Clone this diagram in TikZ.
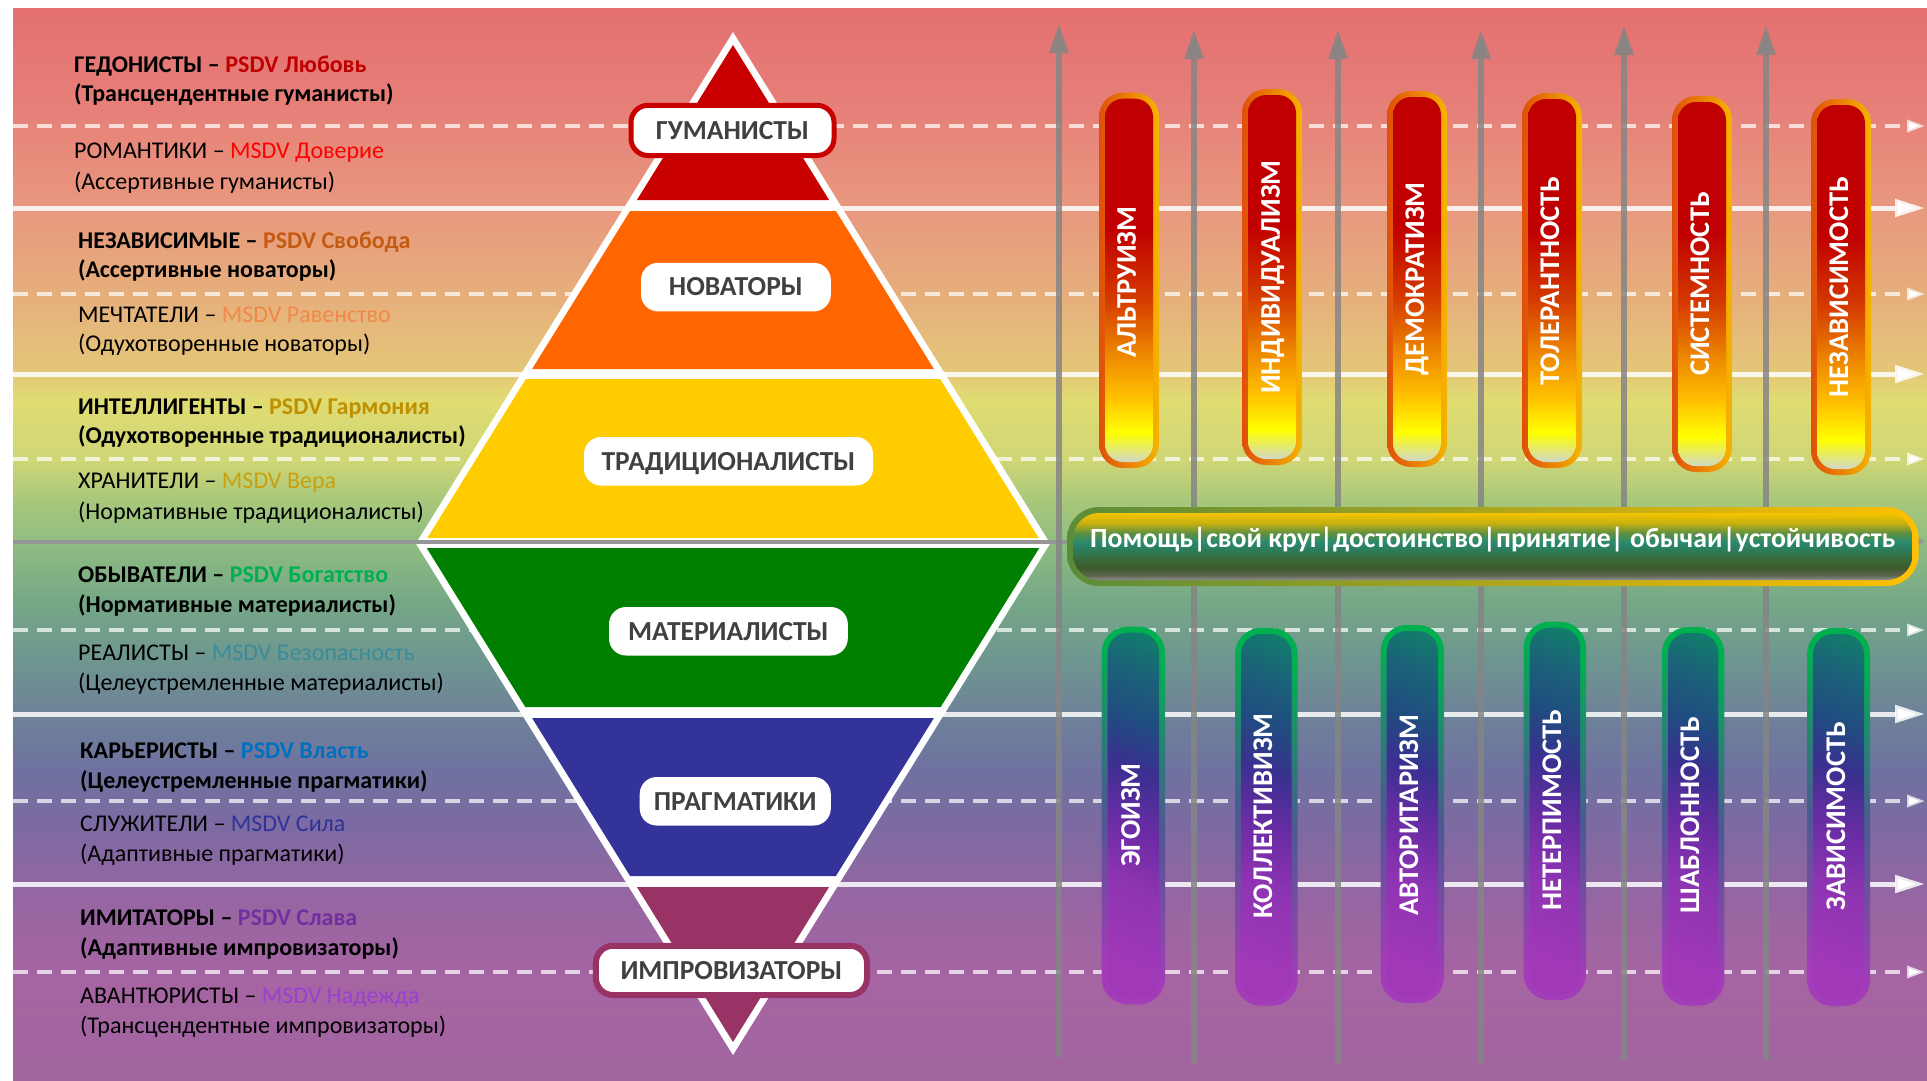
\documentclass[tikz,border=0pt]{standalone}
\usepackage{fontspec}
\setmainfont{Carlito}
\usetikzlibrary{arrows.meta}
% background colours
\definecolor{b01}{HTML}{E47070}\definecolor{b02}{HTML}{E67E78}\definecolor{b03}{HTML}{E8967E}
\definecolor{b04}{HTML}{E6B07C}\definecolor{b05}{HTML}{E4C678}\definecolor{b06}{HTML}{E0DC72}
\definecolor{b07}{HTML}{CFD676}\definecolor{b08}{HTML}{A8C87A}\definecolor{b09}{HTML}{8EBC82}
\definecolor{b10}{HTML}{76A886}\definecolor{b11}{HTML}{6E9690}\definecolor{b12}{HTML}{6E8298}
\definecolor{b13}{HTML}{6F72A0}\definecolor{b14}{HTML}{7E6AA2}\definecolor{b15}{HTML}{9666A2}
\definecolor{b16}{HTML}{A664A2}\definecolor{b17}{HTML}{A066A0}
\pgfdeclareverticalshading{bgshade}{100bp}{color(0bp)=(b17); color(25bp)=(b17); color(29.66bp)=(b16);
 color(33.4bp)=(b15); color(36.66bp)=(b14); color(39.46bp)=(b13); color(42.07bp)=(b12);
 color(44.59bp)=(b11); color(47.39bp)=(b10); color(49.95bp)=(b09); color(52.05bp)=(b08);
 color(53.92bp)=(b07); color(56.72bp)=(b06); color(58.12bp)=(b05); color(61.38bp)=(b04);
 color(66.04bp)=(b03); color(70.71bp)=(b02); color(75bp)=(b01); color(100bp)=(b01)}
% pyramid colours
\definecolor{pRed}{HTML}{C80000}\definecolor{pOrange}{HTML}{FF6600}\definecolor{pYellow}{HTML}{FFCC00}
\definecolor{pGreen}{HTML}{008000}\definecolor{pBlue}{HTML}{333399}\definecolor{pMaroon}{HTML}{993366}
\definecolor{lbltxt}{HTML}{404040}
% text colours
\definecolor{cLove}{HTML}{C00000}\definecolor{cTrust}{HTML}{FF0000}\definecolor{cFree}{HTML}{C55A11}
\definecolor{cEq}{HTML}{F0884A}\definecolor{cHarm}{HTML}{BF9000}\definecolor{cFaith}{HTML}{C8A010}
\definecolor{cWealth}{HTML}{00B050}\definecolor{cSafe}{HTML}{3A8C9A}\definecolor{cPower}{HTML}{0070C0}
\definecolor{cForce}{HTML}{2F3296}\definecolor{cGlory}{HTML}{7030A0}\definecolor{cHope}{HTML}{9B3FD0}
% top pills
\definecolor{tpG}{HTML}{D0D8C8}\definecolor{tpY}{HTML}{FFFF00}\definecolor{tpGo}{HTML}{FFC000}
\definecolor{tpO}{HTML}{F09000}\definecolor{tpRO}{HTML}{D43A00}\definecolor{tpR}{HTML}{C00000}
\definecolor{tpL}{HTML}{E0500A}\definecolor{tpRr}{HTML}{F5B400}
\pgfdeclareverticalshading{tpin}{100bp}{color(0bp)=(tpG); color(25bp)=(tpG); color(29bp)=(tpY);
 color(34bp)=(tpGo); color(39bp)=(tpO); color(47.5bp)=(tpRO); color(57bp)=(tpR); color(100bp)=(tpR)}
% bottom pills
\definecolor{bq1}{HTML}{00A050}\definecolor{bq2}{HTML}{0A9060}\definecolor{bq3}{HTML}{1A6478}
\definecolor{bq4}{HTML}{204C80}\definecolor{bq5}{HTML}{3A3090}\definecolor{bq6}{HTML}{6A2CA4}
\definecolor{bq7}{HTML}{8E34B2}\definecolor{bq8}{HTML}{A038B8}
\definecolor{boG}{HTML}{00B050}\definecolor{boMid}{HTML}{4A5A90}\definecolor{boM}{HTML}{A23CB8}
\pgfdeclareverticalshading{bpin}{100bp}{color(0bp)=(bq8); color(25bp)=(bq8); color(38bp)=(bq7);
 color(48bp)=(bq6); color(58bp)=(bq5); color(66bp)=(bq4); color(75bp)=(bq3); color(86bp)=(bq2);
 color(100bp)=(bq1)}
\pgfdeclareverticalshading{bpout}{100bp}{color(0bp)=(boM); color(25bp)=(boM); color(50bp)=(boMid);
 color(75bp)=(boG); color(100bp)=(boG)}
% bar
\definecolor{ba1}{HTML}{F5C400}\definecolor{ba2}{HTML}{C8B010}\definecolor{ba3}{HTML}{5E9040}
\definecolor{ba4}{HTML}{2A8A6E}\definecolor{ba5}{HTML}{2C7C5C}\definecolor{ba6}{HTML}{3A6838}
\definecolor{ba7}{HTML}{3E5A2A}\definecolor{ba8}{HTML}{5E6450}\definecolor{ba9}{HTML}{8E9090}
\definecolor{baL}{HTML}{5A8C3A}\definecolor{baR}{HTML}{FFC000}
\pgfdeclareverticalshading{barin}{100bp}{color(0bp)=(ba9); color(25bp)=(ba9); color(28.5bp)=(ba8);
 color(34bp)=(ba7); color(40bp)=(ba6); color(47.5bp)=(ba5); color(53.5bp)=(ba4); color(60bp)=(ba3);
 color(67.5bp)=(ba2); color(75bp)=(ba1); color(100bp)=(ba1)}
\definecolor{grayline}{HTML}{969696}
\definecolor{varcol}{HTML}{858585}

\newcommand\tpill[4]{%
 \shade[left color=tpL, right color=tpRr, rounded corners=24pt] (#1,#2) rectangle (#3,#4);
 \shade[shading=tpin, rounded corners=18pt] ({#1+6},{#2+6}) rectangle ({#3-6},{#4-6});}
\newcommand\bpill[4]{%
 \shade[shading=bpout, shading angle=-18, rounded corners=26pt] (#1,#2) rectangle (#3,#4);
 \shade[shading=bpin, shading angle=-22, rounded corners=20pt] ({#1+6},{#2+6}) rectangle ({#3-6},{#4-6});}
\newcommand\ltx[4]{\node[ltxt] (#1) at (#2,#3) {#4};}

\begin{document}
\begin{tikzpicture}[x=1pt,y=-1pt,
  ltxt/.style={anchor=base west, inner sep=0pt, font=\fontsize{24}{28}\selectfont},
  lbl/.style={fill=white, rounded corners=17pt, inner sep=0pt, text height=17.6pt, text depth=0pt,
    font=\fontsize{27.5}{30}\selectfont\bfseries, text=lbltxt},
  pilltxt/.style={rotate=90, text=white, inner sep=0pt, text height=18.4pt, text depth=0pt,
    font=\fontsize{28.5}{30}\selectfont\bfseries},
  solidln/.style={draw=white, draw opacity=0.85, line width=5pt, -{Triangle[length=30pt,width=17pt]}},
  dashln/.style={draw=white, draw opacity=0.72, line width=3.5pt, dash pattern=on 15pt off 9pt,
    -{Triangle[length=18pt,width=12pt]}},
  grayln/.style={draw=grayline, line width=4pt, -{Triangle[length=8pt,width=9pt]}},
  varrow/.style={draw=varcol, draw opacity=0.85, fill opacity=0.85, line width=6pt,
    -{Triangle[length=30pt,width=18pt]}},
  bartxt/.style={anchor=base west, inner sep=0pt, text=white, font=\fontsize{27.8}{30}\selectfont\bfseries}
]
\useasboundingbox (0,0) rectangle (1927,1080);
\fill[white] (0,0) rectangle (1927,1080);
\shade[shading=bgshade] (13,8) rectangle (1927,1080);

% horizontal lines
\foreach \i/\y in {1/208,2/374,3/714,4/884}{
  \coordinate (ss\i) at (13,\y); \coordinate (se\i) at (1925,\y);
  \draw[solidln] (ss\i) -- (se\i);}
\foreach \i/\y in {1/126,2/294,3/459,4/630,5/801,6/972}{
  \coordinate (ds\i) at (13,\y); \coordinate (de\i) at (1925,\y);
  \draw[dashln] (ds\i) -- (de\i);}

% pyramid
\fill[white] (733,32) -- (417.1,541.5) -- (1048.9,541.5) -- cycle;
\fill[white] (733,1055) -- (414.6,541.5) -- (1051.4,541.5) -- cycle;
\fill[pRed] (733,45) -- (636.9,200) -- (829.1,200) -- cycle;
\fill[pOrange] (630.1,211) -- (835.9,211) -- (933.9,369) -- (532.1,369) -- cycle;
\fill[pYellow] (525.9,379) -- (940.1,379) -- (1038.7,538) -- (427.3,538) -- cycle;
\fill[pGreen] (426.7,548) -- (1039.3,548) -- (940.7,707) -- (525.3,707) -- cycle;
\fill[pBlue] (532.1,718) -- (933.9,718) -- (835.9,876) -- (630.1,876) -- cycle;
\fill[pMaroon] (636.9,887) -- (829.1,887) -- (733,1042) -- cycle;

% gray middle line
\coordinate (gs) at (13,541.5); \coordinate (ge) at (1925,541.5);
\draw[grayln] (gs) -- (ge);

% vertical arrows
\foreach \i/\x/\t/\b in {1/1059/23/1057,2/1194/29/1063,3/1338/29/1063,4/1481/29/1063,5/1624/25/1060,6/1766/25/1060}{
  \coordinate (vb\i) at (\x,\b); \coordinate (vt\i) at (\x,\t);
  \draw[varrow] (vb\i) -- (vt\i);}

% top pills
\tpill{1099}{92.7}{1159}{468}
\tpill{1242}{89}{1302}{465}
\tpill{1387}{91}{1447}{467}
\tpill{1522}{93}{1582}{468}
\tpill{1672}{96}{1732}{472}
\tpill{1811}{99}{1871}{475}
\node[pilltxt] (t1) at (1126.7,282) {АЛЬТРУИЗМ};
\node[pilltxt] (t2) at (1270.7,277) {ИНДИВИДУАЛИЗМ};
\node[pilltxt] (t3) at (1415,279) {ДЕМОКРАТИЗМ};
\node[pilltxt] (t4) at (1550,281) {ТОЛЕРАНТНОСТЬ};
\node[pilltxt] (t5) at (1700,284) {СИСТЕМНОСТЬ};
\node[pilltxt] (t6) at (1839,287) {НЕЗАВИСИМОСТЬ};

% bottom pills
\bpill{1101.7}{626.7}{1165}{1004.3}
\bpill{1235}{628}{1297.7}{1005.7}
\bpill{1380.7}{625}{1444}{1003}
\bpill{1523.7}{621.7}{1586}{1000}
\bpill{1662}{627}{1724.3}{1005.7}
\bpill{1807}{628}{1870}{1006}
\node[pilltxt] (u1) at (1130.7,815) {ЭГОИЗМ};
\node[pilltxt] (u2) at (1263,816) {КОЛЛЕКТИВИЗМ};
\node[pilltxt] (u3) at (1409,815) {АВТОРИТАРИЗМ};
\node[pilltxt] (u4) at (1552,810) {НЕТЕРПИМОСТЬ};
\node[pilltxt] (u5) at (1690,815) {ШАБЛОННОСТЬ};
\node[pilltxt] (u6) at (1836,816) {ЗАВИСИМОСТЬ};

% middle bar
\shade[left color=baL, right color=baR, rounded corners=32pt] (1067,507) rectangle (1918.7,586);
\shade[shading=barin, rounded corners=26pt] (1073,513) rectangle (1912.7,580);
\node[bartxt] (bar) at (1090,547) {Помощь|свой круг|достоинство|принятие| обычаи|устойчивость};

% pyramid labels
\node[lbl, draw=pRed, line width=5pt, minimum width=203pt, minimum height=50.2pt] (hum) at (732.5,130.4) {ГУМАНИСТЫ};
\node[lbl, minimum width=189.8pt, minimum height=48.6pt] (nov) at (735.9,287.1) {НОВАТОРЫ};
\node[lbl, minimum width=289pt, minimum height=48.5pt] (tra) at (728.5,461.25) {ТРАДИЦИОНАЛИСТЫ};
\node[lbl, minimum width=238.8pt, minimum height=48.5pt] (mat) at (728.4,631.25) {МАТЕРИАЛИСТЫ};
\node[lbl, minimum width=191.1pt, minimum height=48.5pt] (pra) at (735.25,801.25) {ПРАГМАТИКИ};
\node[lbl, draw=pMaroon, line width=6pt, minimum width=271.1pt, minimum height=49.2pt] (imp) at (731.45,970.4) {ИМПРОВИЗАТОРЫ};

% left texts
\ltx{l1}{74}{72}{\bfseries ГЕДОНИСТЫ – \textcolor{cLove}{PSDV Любовь}}
\ltx{l2}{74}{101.5}{\bfseries (Трансцендентные гуманисты)}
\ltx{l3}{74}{158.5}{РОМАНТИКИ – \textcolor{cTrust}{MSDV Доверие}}
\ltx{l4}{74}{189.5}{(Ассертивные гуманисты)}
\ltx{l5}{78}{248.5}{\bfseries НЕЗАВИСИМЫЕ – \textcolor{cFree}{PSDV Свобода}}
\ltx{l6}{78}{277.5}{\bfseries (Ассертивные новаторы)}
\ltx{l7}{78}{322}{МЕЧТАТЕЛИ – \textcolor{cEq}{MSDV Равенство}}
\ltx{l8}{78}{351}{(Одухотворенные новаторы)}
\ltx{l9}{78}{414}{\bfseries ИНТЕЛЛИГЕНТЫ – \textcolor{cHarm}{PSDV Гармония}}
\ltx{l10}{78}{443}{\bfseries (Одухотворенные традиционалисты)}
\ltx{l11}{78}{488}{ХРАНИТЕЛИ – \textcolor{cFaith}{MSDV Вера}}
\ltx{l12}{78}{519}{(Нормативные традиционалисты)}
\ltx{l13}{78}{582}{\bfseries ОБЫВАТЕЛИ – \textcolor{cWealth}{PSDV Богатство}}
\ltx{l14}{78}{612}{\bfseries (Нормативные материалисты)}
\ltx{l15}{78}{660}{РЕАЛИСТЫ – \textcolor{cSafe}{MSDV Безопасность}}
\ltx{l16}{78}{690}{(Целеустремленные материалисты)}
\ltx{l17}{80}{758}{\bfseries КАРЬЕРИСТЫ – \textcolor{cPower}{PSDV Власть}}
\ltx{l18}{80}{788}{\bfseries (Целеустремленные прагматики)}
\ltx{l19}{80}{831}{СЛУЖИТЕЛИ – \textcolor{cForce}{MSDV Сила}}
\ltx{l20}{80}{861}{(Адаптивные прагматики)}
\ltx{l21}{80}{925}{\bfseries ИМИТАТОРЫ – \textcolor{cGlory}{PSDV Слава}}
\ltx{l22}{80}{955}{\bfseries (Адаптивные импровизаторы)}
\ltx{l23}{80}{1003}{АВАНТЮРИСТЫ – \textcolor{cHope}{MSDV Надежда}}
\ltx{l24}{80}{1033}{(Трансцендентные импровизаторы)}
\end{tikzpicture}
\end{document}
